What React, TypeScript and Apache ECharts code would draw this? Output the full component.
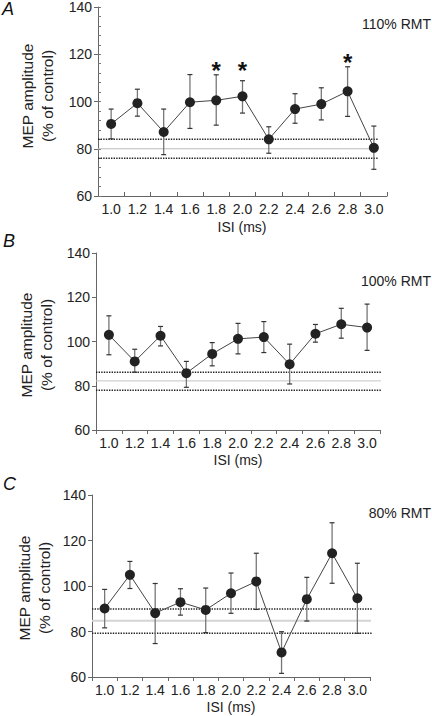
import React, { useEffect, useRef } from "react";
import * as echarts from "echarts";

// ---- data ----
const isiLabels = ["1.0", "1.2", "1.4", "1.6", "1.8", "2.0", "2.2", "2.4", "2.6", "2.8", "3.0"];

const meanA = [90.5, 99.3, 87.1, 99.7, 100.5, 102.2, 84.0, 96.8, 98.9, 104.3, 80.4];
const upperA = [96.8, 105.2, 96.8, 111.4, 111.3, 108.8, 89.3, 103.3, 105.8, 114.7, 89.6];
const lowerA = [84.2, 93.8, 77.5, 88.6, 90.0, 95.1, 78.1, 90.8, 92.2, 93.7, 71.3];
const refA = [84, 80, 76];
const starIdxA = [4, 5, 9];
const starValA = [115.5, 115.5, 119.2];

const meanB = [103.0, 91.0, 102.6, 85.7, 94.4, 101.2, 102.0, 89.7, 103.5, 107.8, 106.3];
const upperB = [111.6, 96.5, 106.8, 91.0, 99.5, 108.2, 109.0, 98.8, 107.7, 115.0, 116.9];
const lowerB = [94.0, 86.1, 98.0, 79.3, 89.0, 94.4, 95.0, 80.8, 99.7, 101.5, 96.0];
const refB = [86.1, 82.2, 78.0];

const meanC = [90.1, 104.9, 88.1, 92.9, 89.5, 96.8, 102.0, 70.8, 94.2, 114.4, 94.6];
const upperC = [98.5, 110.8, 101.1, 98.8, 99.1, 105.7, 114.4, 79.9, 103.8, 127.8, 110.0];
const lowerC = [81.6, 98.9, 74.7, 87.2, 79.5, 88.0, 89.7, 61.6, 84.6, 101.2, 79.2];
const refC = [89.9, 84.7, 79.2];

const intensityLabels = ["110% RMT", "100% RMT", "80% RMT"];
const panelLetters = ["A", "B", "C"];
const yTicks = { min: 60, max: 140, interval: 20 };

// ---- layout ----
const FONT = "'Liberation Sans', Arial, Helvetica, sans-serif";
const panels = [
  { left: 98, top: 7, width: 289, height: 189, tickInside: true, refEnd: 10.16, midColor: "#bdbdbd", midWidth: 1,
    yName: [37, 96], xName: [242, 227], rmt: 24, letter: [2, 9],
    mean: meanA, upper: upperA, lower: lowerA, ref: refA },
  { left: 96, top: 253, width: 284, height: 177, tickInside: false, refEnd: 10.55, midColor: "#c4c4c4", midWidth: 1,
    yName: [36, 345], xName: [238, 460], rmt: 281, letter: [3, 241],
    mean: meanB, upper: upperB, lower: lowerB, ref: refB },
  { left: 92, top: 495, width: 278, height: 182, tickInside: false, refEnd: 10.8, midColor: "#d4d4d4", midWidth: 2,
    yName: [34, 588], xName: [231, 707], rmt: 513, letter: [3, 484],
    mean: meanC, upper: upperC, lower: lowerC, ref: refC },
];

function buildOption() {
  const grid: any[] = [];
  const xAxis: any[] = [];
  const yAxis: any[] = [];
  const series: any[] = [];
  const graphic: any[] = [];

  panels.forEach((p, k) => {
    grid.push({ left: p.left, top: p.top, width: p.width, height: p.height, containLabel: false });
    xAxis.push({
      type: "category", gridIndex: k, data: isiLabels, boundaryGap: true,
      axisLine: { onZero: false, lineStyle: { color: "#666", width: 1 } },
      axisTick: { show: true, inside: p.tickInside, length: 4, lineStyle: { color: "#666" } },
      axisLabel: { color: "#222", fontSize: 14, fontFamily: FONT, margin: 6, interval: 0 },
      splitLine: { show: false },
    });
    xAxis.push({ type: "value", gridIndex: k, min: -0.5, max: 10.5, show: false, axisLine: { onZero: false } });
    yAxis.push({
      type: "value", gridIndex: k, min: yTicks.min, max: yTicks.max, interval: yTicks.interval,
      axisLine: { show: true, onZero: false, lineStyle: { color: "#666", width: 1 } },
      axisTick: { show: true, inside: false, length: 4, lineStyle: { color: "#666" } },
      axisLabel: { color: "#222", fontSize: 14, fontFamily: FONT, margin: 6 },
      splitLine: { show: false },
    });
  });
  // minor inner ticks for panel A
  yAxis.push({
    type: "value", gridIndex: 0, min: 60, max: 140, interval: 4, position: "left", offset: 0,
    axisLine: { show: false, onZero: false }, axisLabel: { show: false }, splitLine: { show: false },
    axisTick: { show: true, inside: true, length: 3, lineStyle: { color: "#777" } },
  });

  panels.forEach((p, k) => {
    const xi = 2 * k + 1;
    // reference band lines
    p.ref.forEach((v, j) => {
      const dotted = j !== 1;
      series.push({
        type: "line", xAxisIndex: xi, yAxisIndex: k, clip: false, silent: true, symbol: "none", z: 1,
        data: [[-0.5, v], [p.refEnd, v]],
        lineStyle: dotted
          ? { color: "#222", width: 1.4, type: [1.4, 1.2] }
          : { color: p.midColor, width: p.midWidth, type: "solid" },
      });
    });
    // error bars
    series.push({
      type: "custom", xAxisIndex: xi, yAxisIndex: k, z: 2, silent: true, clip: false,
      dimensions: ["idx", "lo", "hi"],
      data: p.mean.map((_, i) => [i, p.lower[i], p.upper[i]]),
      renderItem: (params: any, api: any) => {
        const x = api.value(0);
        const lo = api.coord([x, api.value(1)]);
        const hi = api.coord([x, api.value(2)]);
        const cap = 2.5;
        return {
          type: "group",
          children: [
            { type: "line", shape: { x1: lo[0], y1: lo[1], x2: hi[0], y2: hi[1] }, style: { stroke: "#777", lineWidth: 1.3 } },
            { type: "line", shape: { x1: hi[0] - cap, y1: hi[1], x2: hi[0] + cap, y2: hi[1] }, style: { stroke: "#333", lineWidth: 1.2 } },
            { type: "line", shape: { x1: lo[0] - cap, y1: lo[1], x2: lo[0] + cap, y2: lo[1] }, style: { stroke: "#333", lineWidth: 1.2 } },
          ],
        };
      },
    });
    // means
    series.push({
      type: "line", xAxisIndex: xi, yAxisIndex: k, z: 3, silent: true,
      data: p.mean.map((v, i) => [i, v]),
      symbol: "circle", symbolSize: 10, showAllSymbol: true,
      itemStyle: { color: "#222" },
      lineStyle: { color: "#444", width: 1 },
    });

    graphic.push({
      type: "text", x: p.yName[0], y: p.yName[1], rotation: Math.PI / 2,
      style: { text: "MEP amplitude\n(% of control)", fontSize: 15.5, lineHeight: 20, fontFamily: FONT, fill: "#222",
        align: "center", verticalAlign: "middle" },
    });
    graphic.push({
      type: "text", x: p.xName[0], y: p.xName[1],
      style: { text: "ISI (ms)", fontSize: 14, fontFamily: FONT, fill: "#222", align: "center", verticalAlign: "middle" },
    });
    graphic.push({
      type: "text", x: 431, y: p.rmt,
      style: { text: intensityLabels[k], fontSize: 14, fontFamily: FONT, fill: "#222", align: "right", verticalAlign: "middle" },
    });
    graphic.push({
      type: "text", x: p.letter[0], y: p.letter[1],
      style: { text: panelLetters[k], fontSize: 18, fontStyle: "italic", fontFamily: FONT, fill: "#111", align: "left", verticalAlign: "middle" },
    });
  });

  // significance asterisks (panel A)
  series.push({
    type: "custom", xAxisIndex: 1, yAxisIndex: 0, z: 4, silent: true, clip: false,
    dimensions: ["idx", "y"],
    data: starIdxA.map((i, n) => [i, starValA[n]]),
    renderItem: (params: any, api: any) => {
      const pt = api.coord([api.value(0), api.value(1)]);
      return {
        type: "text", x: pt[0], y: pt[1] + 6,
        style: { text: "*", fontSize: 24, fontWeight: "bold", fontFamily: FONT, fill: "#111", align: "center", verticalAlign: "middle" },
      };
    },
  });

  return {
    animation: false,
    backgroundColor: "#ffffff",
    textStyle: { fontFamily: FONT },
    grid, xAxis, yAxis, series, graphic,
  };
}

export default function App() {
  const ref = useRef<HTMLDivElement | null>(null);
  useEffect(() => {
    if (!ref.current) return;
    const chart = echarts.init(ref.current, undefined, { renderer: "svg" });
    chart.setOption(buildOption() as any);
    return () => chart.dispose();
  }, []);
  return <div ref={ref} style={{ position: "absolute", left: 0, top: 0, width: 432, height: 716 }} />;
}
